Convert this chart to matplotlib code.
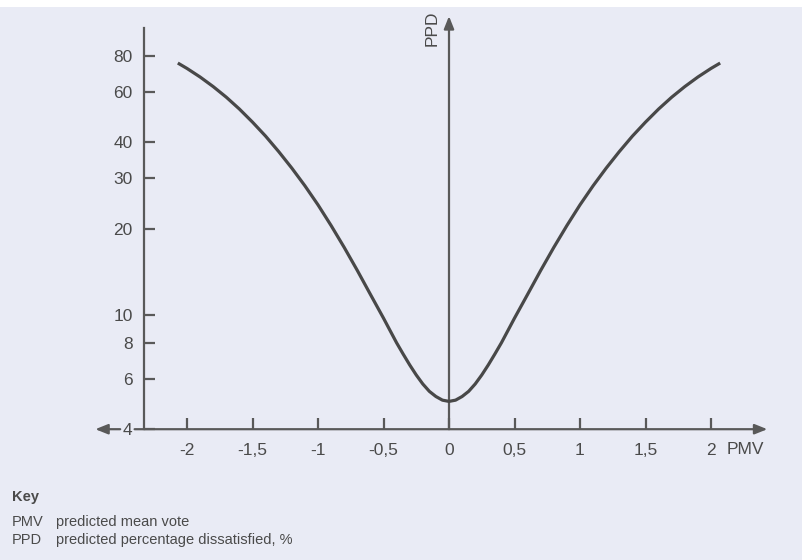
import matplotlib
matplotlib.use("Agg")
import matplotlib.pyplot as plt
from matplotlib.patches import Rectangle

plt.rcParams['font.family'] = ['Liberation Sans', 'DejaVu Sans']

# PMV / PPD curve (symmetric around 0)
pmv_half = [0.0, 0.05, 0.1, 0.15, 0.2, 0.25, 0.3, 0.35, 0.4, 0.45, 0.5, 0.6, 0.7,
            0.8, 0.9, 1.0, 1.1, 1.2, 1.3, 1.4, 1.5, 1.6, 1.7, 1.8, 1.9, 2.0, 2.07]
ppd_half = [5.0, 5.05, 5.2, 5.42, 5.75, 6.18, 6.7, 7.31, 8.0, 8.83, 9.75, 11.8, 14.3,
            17.2, 20.5, 24.2, 28.2, 32.5, 37.1, 42.0, 47.0, 52.2, 57.4, 62.5, 67.5,
            72.3, 75.5]

pmv = [-v for v in pmv_half[::-1]] + pmv_half[1:]
ppd = ppd_half[::-1] + ppd_half[1:]

x_ticks = [-2, -1.5, -1, -0.5, 0, 0.5, 1, 1.5, 2]
x_labels = ['-2', '-1,5', '-1', '-0,5', '0', '0,5', '1', '1,5', '2']
y_ticks = [4, 6, 8, 10, 20, 30, 40, 60, 80]

bg = '#e9ebf5'
ink = '#595959'
text_col = '#4a4a4a'

W, H = 803, 560
fig = plt.figure(figsize=(W / 100, H / 100), dpi=100)
fig.patch.set_facecolor(bg)
# white strip across the top of the scan
fig.patches.append(Rectangle((0, 1 - 7 / H), 1, 7 / H, transform=fig.transFigure,
                             facecolor='white', edgecolor='none'))

# axes placed so the data lines up with the scan
left_px, right_px = 88.75, 789.6
top_px, bot_px = 10.6, 435.6
ax = fig.add_axes([left_px / W, 1 - bot_px / H, (right_px - left_px) / W, (bot_px - top_px) / H])
ax.set_facecolor('none')
ax.set_yscale('log')
ax.set_xlim(-2.75, 2.6)
ax.set_ylim(3.8, 115)

# curve
ax.plot(pmv, ppd, color='#484848', lw=2.3, solid_joinstyle='round',
        solid_capstyle='butt', zorder=3)

# left axis with ticks pointing inward
for s in ['top', 'right']:
    ax.spines[s].set_visible(False)
ax.spines['left'].set_position(('data', -2.33))
ax.spines['left'].set_bounds(4, 100)
ax.spines['left'].set_color(ink)
ax.spines['left'].set_linewidth(1.6)
ax.spines['bottom'].set_position(('data', 4))
ax.spines['bottom'].set_color('none')

ax.set_yticks(y_ticks)
ax.set_yticklabels([str(v) for v in y_ticks])
ax.yaxis.set_minor_locator(matplotlib.ticker.NullLocator())
ax.set_xticks(x_ticks)
ax.set_xticklabels(x_labels)
ax.tick_params(axis='y', direction='in', length=8, width=1.6, color=ink,
               labelsize=12.5, labelcolor=text_col, pad=8)
ax.tick_params(axis='x', direction='in', length=8, width=1.6, color=ink,
               labelsize=12.5, labelcolor=text_col, pad=10)

# horizontal axis, broken around the "4" label
arrow = dict(arrowstyle='-|>,head_length=0.75,head_width=0.3', color=ink, lw=1.6,
             shrinkA=0, shrinkB=0)
ax.annotate('', xy=(-2.70, 4), xytext=(-2.51, 4), arrowprops=arrow, zorder=2,
            annotation_clip=False)
ax.annotate('', xy=(2.43, 4), xytext=(-2.40, 4), arrowprops=arrow, zorder=2,
            annotation_clip=False)
# vertical PPD axis
ax.annotate('', xy=(0, 110), xytext=(0, 4), arrowprops=arrow, zorder=2,
            annotation_clip=False)

ax.text(-0.13, 100, 'PPD', rotation=90, ha='center', va='center',
        fontsize=12.5, color=text_col)
ax.text(2.26, 3.40, 'PMV', ha='center', va='center', fontsize=12.5,
        color=text_col, clip_on=False)

# key
fig.text(12 / W, 1 - 497 / H, 'Key', fontsize=10.5, fontweight='bold',
         color=text_col, va='center')
fig.text(12 / W, 1 - 522 / H, 'PMV', fontsize=10.5, color=text_col, va='center')
fig.text(56 / W, 1 - 522 / H, 'predicted mean vote', fontsize=10.5,
         color=text_col, va='center')
fig.text(12 / W, 1 - 540 / H, 'PPD', fontsize=10.5, color=text_col, va='center')
fig.text(56 / W, 1 - 540 / H, 'predicted percentage dissatisfied, %',
         fontsize=10.5, color=text_col, va='center')

fig.savefig('out.png', dpi=100, facecolor=fig.get_facecolor())
